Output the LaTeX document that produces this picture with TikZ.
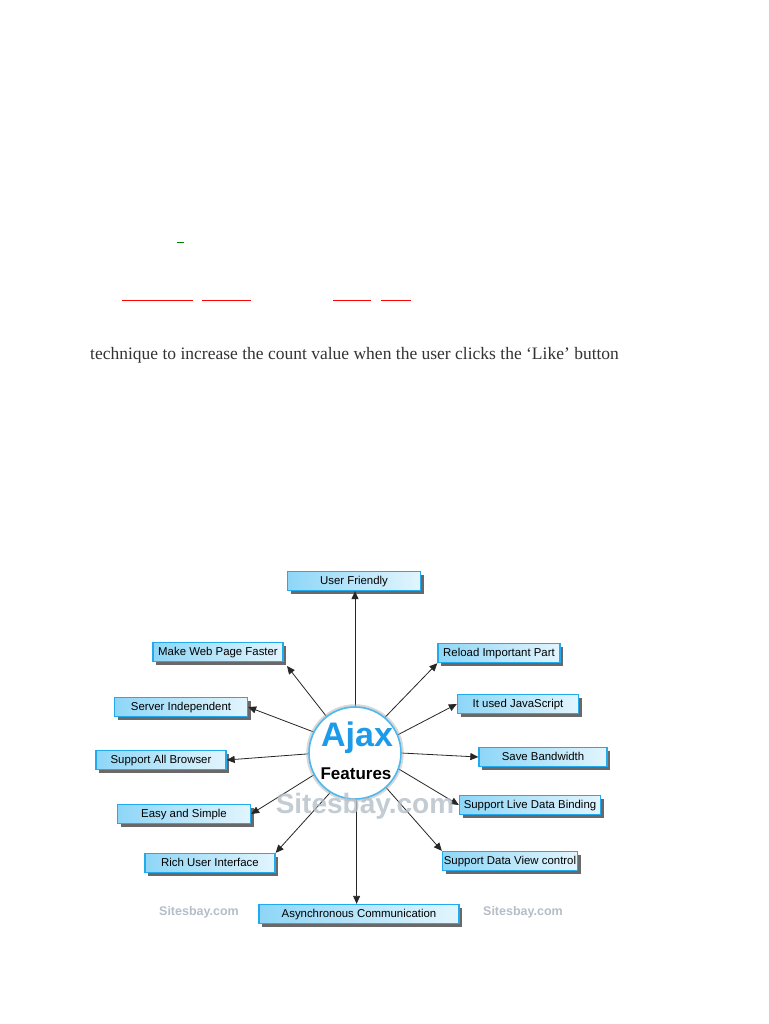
\documentclass[tikz,border=0pt]{standalone}
\usepackage{fontspec}
\setmainfont{Liberation Serif}
\newfontfamily\boxfont{Liberation Sans}
\usetikzlibrary{shadows,arrows.meta}
\definecolor{boxborder}{HTML}{22AAEE}
\definecolor{boxleft}{HTML}{8ED6F7}
\definecolor{boxright}{HTML}{E2F5FD}
\definecolor{ajaxblue}{HTML}{1E9BE8}
\definecolor{circborder}{HTML}{4DB8F0}
\definecolor{wmgray}{HTML}{B4BEC8}
\definecolor{textgray}{HTML}{333333}
\begin{document}
\begin{tikzpicture}[x=1pt,y=-1pt,
  feat/.style={draw=boxborder, line width=1.3pt, left color=boxleft, right color=boxright,
    font=\boxfont\fontsize{11.4}{13}\selectfont, text=black, minimum height=19pt,
    text height=8.2pt, text depth=1.8pt,
    inner sep=0pt, drop shadow={shadow xshift=3pt, shadow yshift=-3pt, fill=black!65, opacity=0.9}},
  conn/.style={draw=black!85, line width=0.8pt, -{Triangle[length=8pt,width=7pt]}},
  wm/.style={text=wmgray, font=\boxfont\bfseries}]
\useasboundingbox (0,0) rectangle (768,1024);
\fill[white] (0,0) rectangle (768,1024);

% top page fragments
\coordinate (g1) at (177,242); \coordinate (g2) at (184,242);
\draw[green!50!black, line width=0.8pt] (g1) -- (g2);
\coordinate (r1a) at (122,300); \coordinate (r1b) at (193,300);
\coordinate (r2a) at (202,300); \coordinate (r2b) at (251,300);
\coordinate (r3a) at (333,300); \coordinate (r3b) at (371,300);
\coordinate (r4a) at (381,300); \coordinate (r4b) at (411,300);
\draw[red, line width=0.9pt] (r1a) -- (r1b) (r2a) -- (r2b) (r3a) -- (r3b) (r4a) -- (r4b);
\node[anchor=west, inner sep=0pt, text=textgray, font=\fontsize{17.5}{20}\selectfont] (para) at (90,355)
  {technique to increase the count value when the user clicks the `Like' button};

% feature boxes
\node[feat, minimum width=133pt] (uf) at (354,581) {User Friendly};
\node[feat, minimum width=130pt] (mw) at (218,652) {Make Web Page Faster};
\node[feat, minimum width=133pt] (si) at (181,707) {Server Independent};
\node[feat, minimum width=130pt] (sb) at (161,760) {Support All Browser};
\node[feat, minimum width=133pt] (es) at (184,814) {Easy and Simple};
\node[feat, minimum width=130pt] (ru) at (210,863) {Rich User Interface};
\node[feat, minimum width=200pt] (ac) at (359,914) {Asynchronous Communication};
\node[feat, minimum width=122pt] (rp) at (499,653) {Reload Important Part};
\node[feat, minimum width=121pt] (js) at (518,704) {It used JavaScript};
\node[feat, minimum width=128pt] (bw) at (543,757) {Save Bandwidth};
\node[feat, minimum width=141pt] (ld) at (530,805) {Support Live Data Binding};
\node[feat, minimum width=135pt] (dv) at (510,861) {Support Data View control};

% watermarks
\node[wm, font=\boxfont\bfseries\fontsize{12.5}{14}\selectfont] (wl) at (199,912) {Sitesbay.com};
\node[wm, font=\boxfont\bfseries\fontsize{12.5}{14}\selectfont] (wr) at (523,912) {Sitesbay.com};

% centre
\node[circle, minimum size=92pt, inner sep=0pt] (c) at (355,753) {};

% connectors
\draw[conn] (c.90) -- (uf.south -| c.90);
\draw[conn] (c.128) -- (287,666) coordinate (mwend);
\draw[conn] (c.153) -- (si.east);
\draw[conn] (c.181) -- (sb.east);
\draw[conn] (c.208) -- (es.east);
\draw[conn] (c.238) -- (ru.north east);
\draw[conn] (c.272) -- (ac.north -| c.272);
\draw[conn] (c.50) -- (rp.south west);
\draw[conn] (c.23) -- (js.west);
\draw[conn] (c.0) -- (bw.west);
\draw[conn] (c.-20) -- (ld.west);
\draw[conn] (c.-48) -- (dv.north west);

\node[circle, draw=circborder, line width=1.6pt, fill=white, minimum size=92pt, inner sep=0pt,
  drop shadow={shadow xshift=0pt, shadow yshift=0pt, shadow scale=1.06, fill=black!30, opacity=0.5}] (cc) at (355,753) {};
\node[text=ajaxblue, font=\boxfont\bfseries\fontsize{34}{38}\selectfont] (ajax) at (357,738) {Ajax};
\node[text=black, font=\boxfont\bfseries\fontsize{17}{19}\selectfont] (feats) at (356,774) {Features};

\node[wm, font=\boxfont\bfseries\fontsize{28}{30}\selectfont, opacity=0.8] (wc) at (365,806) {Sitesbay.com};
\end{tikzpicture}
\end{document}
